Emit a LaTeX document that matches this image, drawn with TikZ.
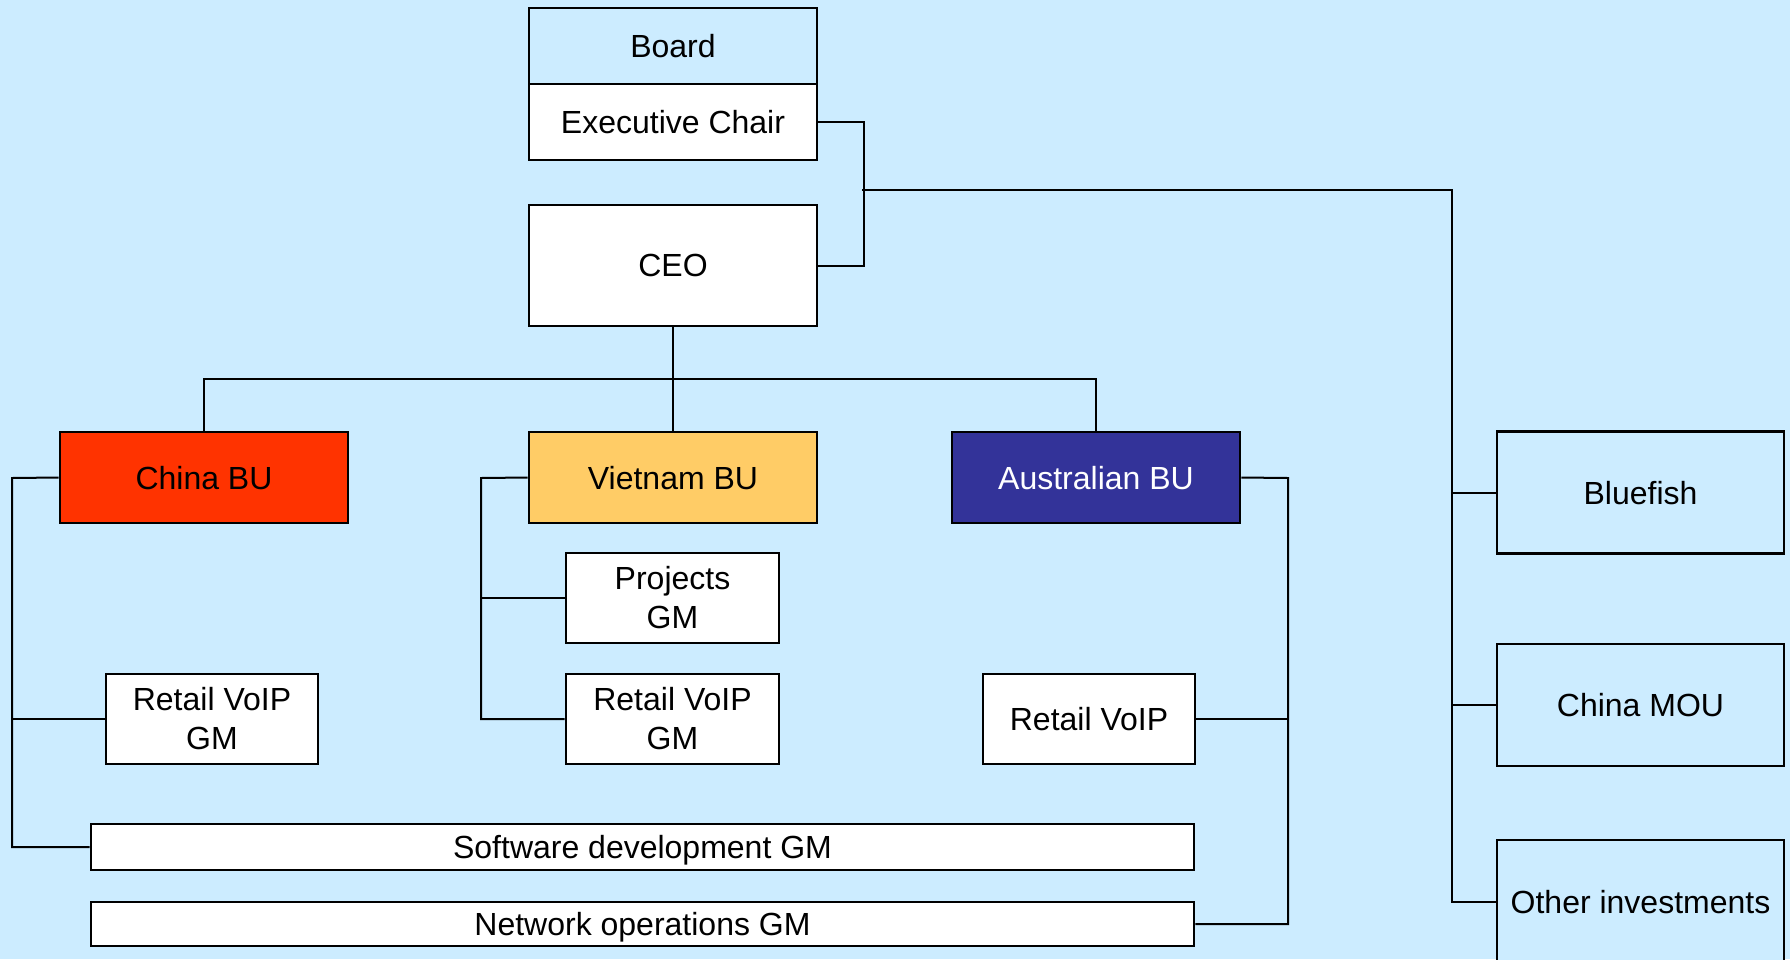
\documentclass[tikz,border=0pt]{standalone}
\usepackage{fontspec}
\setmainfont{Liberation Sans}
\definecolor{bg}{HTML}{CCECFF}
\definecolor{chinared}{HTML}{FF3300}
\definecolor{vnyellow}{HTML}{FFCC66}
\definecolor{aublue}{HTML}{333399}
\begin{document}
\begin{tikzpicture}[x=1pt,y=-1pt,
  box/.style={draw=black, line width=2.6pt, rectangle, inner sep=0pt, align=center,
    font=\fontsize{32}{39}\selectfont, fill=white},
  single/.style={text depth=0pt},
  conn/.style={draw=black, line width=2pt}]
\useasboundingbox (0,0) rectangle (1790,959);
\clip (0,0) rectangle (1790,959);
\fill[bg] (0,0) rectangle (1790,959);

% top
\node[box, single, fill=bg, minimum width=288pt, minimum height=76pt] (board) at (673,46) {Board};
\node[box, single, minimum width=288pt, minimum height=76pt] (exec) at (673,122) {Executive Chair};
\node[box, single, minimum width=288pt, minimum height=121pt] (ceo) at (673,265.5) {CEO};

% business units
\node[box, single, fill=chinared, minimum width=288pt, minimum height=91pt] (china) at (204,477.5) {China BU};
\node[box, single, fill=vnyellow, minimum width=288pt, minimum height=91pt] (vn) at (673,477.5) {Vietnam BU};
\node[box, single, fill=aublue, text=white, minimum width=288pt, minimum height=91pt] (au) at (1096,477.5) {Australian BU};

% GMs
\node[box, minimum width=212pt, minimum height=90pt] (cnretail) at (212,719) {Retail VoIP\\GM};
\node[box, minimum width=213pt, minimum height=90pt] (projects) at (672.5,598) {Projects\\GM};
\node[box, minimum width=213pt, minimum height=90pt] (vnretail) at (672.5,719) {Retail VoIP\\GM};
\node[box, single, minimum width=212pt, minimum height=90pt] (auretail) at (1089,719) {Retail VoIP};
\node[box, single, minimum width=1103pt, minimum height=46pt] (software) at (642.5,847) {Software development GM};
\node[box, single, minimum width=1103pt, minimum height=44pt] (network) at (642.5,924) {Network operations GM};

% investments
\node[box, single, fill=bg, minimum width=287pt, minimum height=122pt] (bluefish) at (1640.5,492.5) {Bluefish};
\node[box, single, fill=bg, minimum width=287pt, minimum height=122pt] (mou) at (1640.5,705) {China MOU};
\node[box, single, fill=bg, minimum width=287pt, minimum height=124pt] (other) at (1640.5,902) {Other investments};

% connectors
\coordinate (chairbus) at (864,122);
\coordinate (invtop) at (862,190);
\coordinate (invbus) at (1452,190);
\draw[conn] (exec.east) -- (chairbus) |- (ceo.east);
\draw[conn] (invtop) -- (invbus) |- (other.west);
\draw[conn] (invbus |- bluefish.west) -- (bluefish.west);
\draw[conn] (invbus |- mou.west) -- (mou.west);

\coordinate (bubus) at (673,379);
\draw[conn] (ceo.south) -- (vn.north);
\draw[conn] (china.north) -- (china.north |- bubus) -- (au.north |- bubus) -- (au.north);

\coordinate (cnbus) at (12,478);
\draw[conn] (china.west) -- (cnbus) |- (software.west);
\draw[conn] (cnbus |- cnretail.west) -- (cnretail.west);

\coordinate (vnbus) at (481,478);
\draw[conn] (vn.west) -- (vnbus) |- (vnretail.west);
\draw[conn] (vnbus |- projects.west) -- (projects.west);

\coordinate (aubus) at (1288,478);
\draw[conn] (au.east) -- (aubus) |- (network.east);
\draw[conn] (auretail.east) -- (aubus |- auretail.east);
\end{tikzpicture}
\end{document}
